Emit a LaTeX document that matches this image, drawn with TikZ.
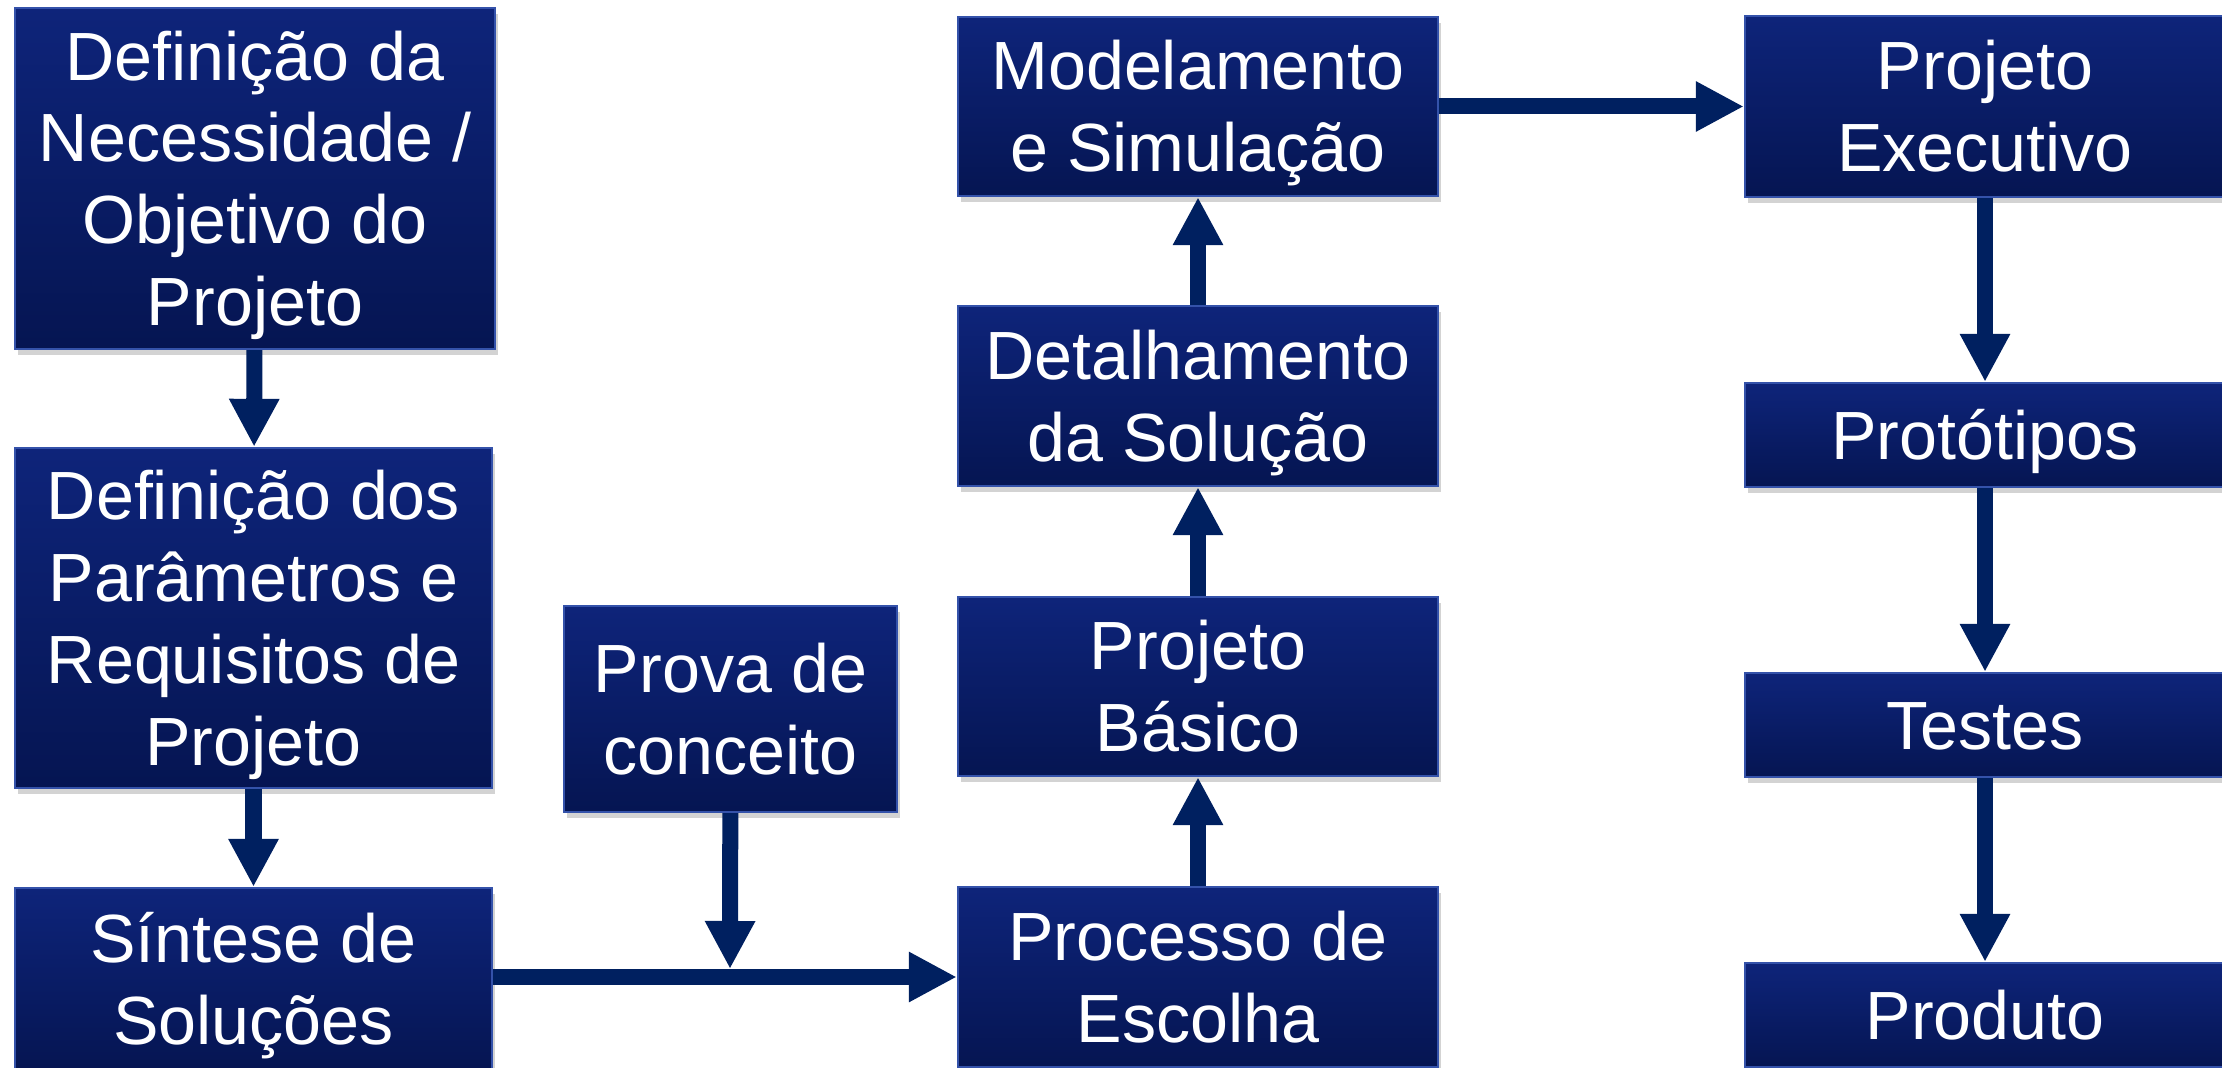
\documentclass[tikz,border=0pt]{standalone}
\usepackage{fontspec}
\setmainfont{Liberation Sans}
\usetikzlibrary{arrows.meta,shadows}
\definecolor{boxtop}{RGB}{14,36,122}
\definecolor{boxbot}{RGB}{5,21,82}
\definecolor{boxedge}{RGB}{52,82,170}
\definecolor{arrowblue}{RGB}{0,32,96}

\begin{document}
\begin{tikzpicture}[x=0.01cm, y=-0.01cm,
		etapa/.style={rectangle, draw=boxedge, line width=0.6pt, top color=boxtop, bottom color=boxbot,
			drop shadow={shadow xshift=0.03cm, shadow yshift=-0.06cm, opacity=0.35},
			text=white, align=center, inner sep=0pt, minimum width=4.8cm,
			font=\fontsize{19.4}{23.3}\selectfont, text height=#1, text depth=0pt},
		etapa/.default=13.9pt,
		seta/.style={draw=arrowblue, line width=0.16cm, -{Triangle[width=0.47cm, length=0.48cm]}}]
				\useasboundingbox (0,0) rectangle (2222,1067);
				\clip (0,0) rectangle (2222,1067);
				% coluna 1
				\node[etapa=83.8pt, minimum height=3.41cm] (A)at(255, 178.5) {Definição da\\Necessidade /\\Objetivo do\\Projeto};
				\node[etapa=83.8pt, minimum height=3.4cm, minimum width=4.77cm] (B)at(253.5, 618) {Definição dos\\Parâmetros e\\Requisitos de\\Projeto};
				\node[etapa=37.2pt, minimum height=1.82cm, minimum width=4.77cm] (C)at(253.5, 979) {Síntese de\\Soluções};
				\node[etapa=37.2pt, minimum height=2.06cm, minimum width=3.33cm] (P)at(730.5, 709) {Prova de\\conceito};
				% coluna 2
				\node[etapa=37.2pt, minimum height=1.8cm] (E)at(1198, 977) {Processo de\\Escolha};
				\node[etapa=37.2pt, minimum height=1.79cm] (F)at(1198, 686.5) {Projeto\\Básico};
				\node[etapa=37.2pt, minimum height=1.8cm] (G)at(1198, 396) {Detalhamento\\da Solução};
				\node[etapa=37.2pt, minimum height=1.79cm] (H)at(1198, 106.5) {Modelamento\\e Simulação};
				% coluna 3
				\node[etapa=37.2pt, minimum height=1.81cm] (I)at(1985, 106.5) {Projeto\\Executivo};
				\node[etapa, minimum height=1.04cm] (K)at(1985, 435) {Protótipos};
				\node[etapa, minimum height=1.04cm] (L)at(1985, 725) {Testes};
				\node[etapa, minimum height=1.04cm] (M)at(1985, 1015) {Produto};
				\coordinate (J) at (730, 969);
				\draw[seta] (A) -- (B);
				\draw[seta] (B) -- (C);
				\draw[seta] (C.east |- E.west) -- (E.west);
				\draw[seta] (P) -- (J);
				\draw[seta] (E) -- (F);
				\draw[seta] (F) -- (G);
				\draw[seta] (G) -- (H);
				\draw[seta] (H.east) -- (H.east -| I.west);
				\draw[seta] (I) -- (K);
				\draw[seta] (K) -- (L);
				\draw[seta] (L) -- (M);
			\end{tikzpicture}
\end{document}
